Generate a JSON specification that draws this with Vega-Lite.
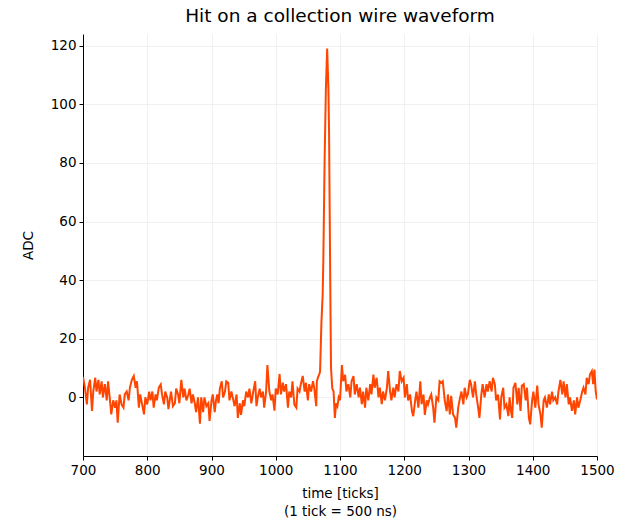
{
  "$schema": "https://vega.github.io/schema/vega-lite/v6.json",
  "width": 514,
  "height": 422,
  "autosize": "none",
  "padding": {"left": 83, "top": 34, "right": 25, "bottom": 69},
  "background": "white",
  "title": {
    "text": "Hit on a collection wire waveform",
    "font": "DejaVu Sans",
    "fontSize": 18.5,
    "fontWeight": "normal",
    "color": "#000000",
    "offset": 9
  },
  "data": {
    "values": [
      {"tick": 700, "adc": 7}, {"tick": 703, "adc": 3.3}, {"tick": 706, "adc": -2.4}, {"tick": 708, "adc": 3.3},
      {"tick": 711, "adc": 6}, {"tick": 714, "adc": -4.6}, {"tick": 716, "adc": 2}, {"tick": 719, "adc": 6.7},
      {"tick": 721, "adc": 2}, {"tick": 724, "adc": 6}, {"tick": 726, "adc": 1}, {"tick": 729, "adc": 5.5},
      {"tick": 731, "adc": 0}, {"tick": 734, "adc": 4.5}, {"tick": 737, "adc": -1}, {"tick": 739, "adc": 5.5},
      {"tick": 742, "adc": -1}, {"tick": 744, "adc": -5.8}, {"tick": 747, "adc": -1}, {"tick": 750, "adc": -3.5},
      {"tick": 752, "adc": -1}, {"tick": 754, "adc": -8.6}, {"tick": 757, "adc": 1}, {"tick": 760, "adc": -2.4},
      {"tick": 763, "adc": -3.5}, {"tick": 765, "adc": 1}, {"tick": 768, "adc": 2}, {"tick": 771, "adc": -1},
      {"tick": 773, "adc": 3.3}, {"tick": 776, "adc": 6}, {"tick": 779, "adc": 7.3}, {"tick": 782, "adc": 3.3},
      {"tick": 784, "adc": 5.5}, {"tick": 787, "adc": -3.5}, {"tick": 789, "adc": 1}, {"tick": 792, "adc": -2.4},
      {"tick": 795, "adc": -5.8}, {"tick": 797, "adc": 0}, {"tick": 800, "adc": -2.4}, {"tick": 803, "adc": 2},
      {"tick": 805, "adc": -1}, {"tick": 808, "adc": 2}, {"tick": 810, "adc": -3.5}, {"tick": 813, "adc": 1},
      {"tick": 815, "adc": -1}, {"tick": 818, "adc": 3.3}, {"tick": 821, "adc": 4.4}, {"tick": 823, "adc": 1},
      {"tick": 826, "adc": -2.4}, {"tick": 828, "adc": 2}, {"tick": 831, "adc": 0}, {"tick": 833, "adc": -4},
      {"tick": 837, "adc": 2}, {"tick": 840, "adc": -3}, {"tick": 843, "adc": -2}, {"tick": 845, "adc": 3},
      {"tick": 848, "adc": 1}, {"tick": 850, "adc": -2}, {"tick": 853, "adc": 6}, {"tick": 856, "adc": 0},
      {"tick": 858, "adc": 3}, {"tick": 861, "adc": -1}, {"tick": 864, "adc": 1}, {"tick": 866, "adc": 3},
      {"tick": 869, "adc": -2}, {"tick": 871, "adc": 1}, {"tick": 874, "adc": -2}, {"tick": 876, "adc": -5},
      {"tick": 879, "adc": 0}, {"tick": 882, "adc": -9}, {"tick": 884, "adc": 0}, {"tick": 887, "adc": -5},
      {"tick": 889, "adc": 0}, {"tick": 892, "adc": -3}, {"tick": 895, "adc": -2}, {"tick": 897, "adc": -8},
      {"tick": 900, "adc": -1}, {"tick": 902, "adc": 1}, {"tick": 905, "adc": -5}, {"tick": 907, "adc": -1},
      {"tick": 909, "adc": 1}, {"tick": 911, "adc": -2}, {"tick": 913, "adc": 3}, {"tick": 916, "adc": 5.5},
      {"tick": 918, "adc": 0}, {"tick": 921, "adc": 2}, {"tick": 923, "adc": 5.5}, {"tick": 926, "adc": 5},
      {"tick": 928, "adc": -1}, {"tick": 931, "adc": 2}, {"tick": 933, "adc": 0}, {"tick": 936, "adc": -3},
      {"tick": 939, "adc": 1}, {"tick": 941, "adc": -7}, {"tick": 944, "adc": -2}, {"tick": 946, "adc": -6},
      {"tick": 949, "adc": -1}, {"tick": 951, "adc": -3}, {"tick": 954, "adc": 2}, {"tick": 957, "adc": 0},
      {"tick": 959, "adc": 3}, {"tick": 962, "adc": -2}, {"tick": 965, "adc": 2}, {"tick": 968, "adc": 5.5},
      {"tick": 970, "adc": -3}, {"tick": 972, "adc": 0}, {"tick": 975, "adc": 3}, {"tick": 977, "adc": 0},
      {"tick": 980, "adc": 2}, {"tick": 982, "adc": -3.5}, {"tick": 985, "adc": 2}, {"tick": 987, "adc": 11},
      {"tick": 990, "adc": 2}, {"tick": 993, "adc": -1}, {"tick": 995, "adc": 1}, {"tick": 998, "adc": -4.5},
      {"tick": 1000, "adc": 3}, {"tick": 1003, "adc": 1}, {"tick": 1006, "adc": 8}, {"tick": 1008, "adc": 1},
      {"tick": 1011, "adc": 5}, {"tick": 1013, "adc": 2}, {"tick": 1016, "adc": 4.5}, {"tick": 1019, "adc": -3.5},
      {"tick": 1021, "adc": 2}, {"tick": 1024, "adc": 0}, {"tick": 1026, "adc": 5.5}, {"tick": 1029, "adc": -2.5},
      {"tick": 1032, "adc": -3.5}, {"tick": 1034, "adc": 3}, {"tick": 1037, "adc": 2}, {"tick": 1039, "adc": 4.5},
      {"tick": 1042, "adc": 7.3}, {"tick": 1045, "adc": 2}, {"tick": 1047, "adc": 5}, {"tick": 1050, "adc": -1},
      {"tick": 1052, "adc": 4.5}, {"tick": 1055, "adc": 2}, {"tick": 1058, "adc": 5.5}, {"tick": 1060, "adc": 3},
      {"tick": 1063, "adc": -3}, {"tick": 1064, "adc": 5.5}, {"tick": 1066, "adc": 7}, {"tick": 1068, "adc": 8},
      {"tick": 1069, "adc": 9}, {"tick": 1071, "adc": 25}, {"tick": 1073, "adc": 35}, {"tick": 1074, "adc": 46},
      {"tick": 1076, "adc": 80}, {"tick": 1078, "adc": 105}, {"tick": 1080, "adc": 119}, {"tick": 1082, "adc": 105},
      {"tick": 1083, "adc": 90}, {"tick": 1084, "adc": 62}, {"tick": 1085, "adc": 35}, {"tick": 1086, "adc": 10},
      {"tick": 1088, "adc": 3}, {"tick": 1090, "adc": 2}, {"tick": 1092, "adc": -7}, {"tick": 1094, "adc": -2},
      {"tick": 1096, "adc": -3}, {"tick": 1098, "adc": 0}, {"tick": 1100, "adc": -1}, {"tick": 1103, "adc": 11},
      {"tick": 1105, "adc": 5.5}, {"tick": 1108, "adc": 7.7}, {"tick": 1110, "adc": 2}, {"tick": 1113, "adc": 4.5},
      {"tick": 1116, "adc": 0}, {"tick": 1118, "adc": 5.5}, {"tick": 1121, "adc": 7.3}, {"tick": 1123, "adc": 1},
      {"tick": 1126, "adc": 4.5}, {"tick": 1129, "adc": 0}, {"tick": 1131, "adc": 3.3}, {"tick": 1134, "adc": -2.3},
      {"tick": 1136, "adc": 2}, {"tick": 1139, "adc": -3.5}, {"tick": 1141, "adc": 3.3}, {"tick": 1144, "adc": -1},
      {"tick": 1147, "adc": 4.5}, {"tick": 1149, "adc": 1}, {"tick": 1152, "adc": 7.8}, {"tick": 1154, "adc": 3.3},
      {"tick": 1157, "adc": 6.7}, {"tick": 1160, "adc": 0}, {"tick": 1162, "adc": 3.3}, {"tick": 1165, "adc": -2.3},
      {"tick": 1167, "adc": 2}, {"tick": 1170, "adc": -1}, {"tick": 1173, "adc": 3.3}, {"tick": 1175, "adc": 9},
      {"tick": 1178, "adc": 2}, {"tick": 1180, "adc": -1}, {"tick": 1183, "adc": 3.3}, {"tick": 1185, "adc": 0},
      {"tick": 1188, "adc": 4.5}, {"tick": 1191, "adc": 2}, {"tick": 1193, "adc": 9}, {"tick": 1196, "adc": 5.5},
      {"tick": 1199, "adc": 6.7}, {"tick": 1201, "adc": 0}, {"tick": 1204, "adc": 4.5}, {"tick": 1206, "adc": -1},
      {"tick": 1209, "adc": 1}, {"tick": 1212, "adc": -4.7}, {"tick": 1214, "adc": -6.4}, {"tick": 1217, "adc": -1},
      {"tick": 1219, "adc": 2}, {"tick": 1222, "adc": -3.5}, {"tick": 1225, "adc": 5.5}, {"tick": 1227, "adc": -2.3},
      {"tick": 1230, "adc": 1}, {"tick": 1232, "adc": -6}, {"tick": 1235, "adc": -1}, {"tick": 1237, "adc": -2.4},
      {"tick": 1240, "adc": 0}, {"tick": 1242, "adc": 1}, {"tick": 1245, "adc": -3.5}, {"tick": 1247, "adc": -8.6},
      {"tick": 1250, "adc": 0}, {"tick": 1253, "adc": -1}, {"tick": 1255, "adc": 5.5}, {"tick": 1258, "adc": 5},
      {"tick": 1260, "adc": 5.5}, {"tick": 1263, "adc": -1}, {"tick": 1266, "adc": -4.7}, {"tick": 1268, "adc": 1},
      {"tick": 1271, "adc": -5.8}, {"tick": 1273, "adc": 0.5}, {"tick": 1276, "adc": -5.8}, {"tick": 1279, "adc": -7},
      {"tick": 1281, "adc": -10.3}, {"tick": 1284, "adc": -3.5}, {"tick": 1286, "adc": -1}, {"tick": 1289, "adc": 2},
      {"tick": 1292, "adc": -2.4}, {"tick": 1294, "adc": 3.3}, {"tick": 1297, "adc": 0}, {"tick": 1299, "adc": 1},
      {"tick": 1302, "adc": 6}, {"tick": 1304, "adc": 4.5}, {"tick": 1307, "adc": 0}, {"tick": 1310, "adc": 5.5},
      {"tick": 1312, "adc": 1}, {"tick": 1315, "adc": -3.5}, {"tick": 1317, "adc": -7}, {"tick": 1320, "adc": 1},
      {"tick": 1322, "adc": 4.5}, {"tick": 1325, "adc": 0}, {"tick": 1328, "adc": 4.5}, {"tick": 1330, "adc": 2},
      {"tick": 1333, "adc": 5.5}, {"tick": 1336, "adc": 2}, {"tick": 1338, "adc": 6.7}, {"tick": 1341, "adc": 4.5},
      {"tick": 1343, "adc": -1}, {"tick": 1346, "adc": 1}, {"tick": 1349, "adc": -7.5}, {"tick": 1351, "adc": 0},
      {"tick": 1354, "adc": 3.3}, {"tick": 1356, "adc": -3.5}, {"tick": 1359, "adc": -2.4}, {"tick": 1362, "adc": -6.4},
      {"tick": 1364, "adc": 0}, {"tick": 1366, "adc": -4.6}, {"tick": 1368, "adc": -7}, {"tick": 1370, "adc": 3.3},
      {"tick": 1373, "adc": 5}, {"tick": 1376, "adc": -2.4}, {"tick": 1378, "adc": 3.3}, {"tick": 1381, "adc": -4.6},
      {"tick": 1383, "adc": 4}, {"tick": 1386, "adc": 4.5}, {"tick": 1389, "adc": -1}, {"tick": 1391, "adc": 3.3},
      {"tick": 1394, "adc": -7}, {"tick": 1396, "adc": -9.2}, {"tick": 1399, "adc": -1}, {"tick": 1401, "adc": 2},
      {"tick": 1404, "adc": -3.5}, {"tick": 1407, "adc": 4}, {"tick": 1409, "adc": -2.4}, {"tick": 1412, "adc": -5.8},
      {"tick": 1414, "adc": -10.3}, {"tick": 1417, "adc": -1}, {"tick": 1419, "adc": 0}, {"tick": 1422, "adc": -3.5},
      {"tick": 1425, "adc": 1}, {"tick": 1427, "adc": -2.4}, {"tick": 1430, "adc": 2}, {"tick": 1432, "adc": -1},
      {"tick": 1435, "adc": 0}, {"tick": 1438, "adc": -2.4}, {"tick": 1440, "adc": 2}, {"tick": 1443, "adc": 6},
      {"tick": 1446, "adc": 1}, {"tick": 1448, "adc": 5.5}, {"tick": 1451, "adc": 0}, {"tick": 1453, "adc": 4.5},
      {"tick": 1456, "adc": -2.4}, {"tick": 1458, "adc": 0}, {"tick": 1461, "adc": -4.6}, {"tick": 1464, "adc": -1},
      {"tick": 1466, "adc": -5.8}, {"tick": 1469, "adc": 0}, {"tick": 1471, "adc": -3.5}, {"tick": 1474, "adc": -1},
      {"tick": 1477, "adc": 2}, {"tick": 1479, "adc": 3.3}, {"tick": 1482, "adc": 1}, {"tick": 1484, "adc": 6.7},
      {"tick": 1487, "adc": 4.5}, {"tick": 1489, "adc": 7.8}, {"tick": 1492, "adc": 9}, {"tick": 1494, "adc": 4.5},
      {"tick": 1496, "adc": 9.5}, {"tick": 1498, "adc": 2}, {"tick": 1500, "adc": -0.7}
    ]
  },
  "mark": {"type": "line", "color": "#ff4500", "strokeWidth": 2, "clip": true},
  "encoding": {
    "x": {
      "field": "tick",
      "type": "quantitative",
      "scale": {"domain": [700, 1500], "nice": false, "zero": false},
      "axis": {
        "values": [700, 800, 900, 1000, 1100, 1200, 1300, 1400, 1500],
        "format": "d",
        "title": ["time [ticks]", "(1 tick = 500 ns)"],
        "titleLineHeight": 18,
        "labelFlush": false,
        "titlePadding": 10
      }
    },
    "y": {
      "field": "adc",
      "type": "quantitative",
      "scale": {"domain": [-20, 124], "nice": false, "zero": false},
      "axis": {
        "values": [0, 20, 40, 60, 80, 100, 120],
        "format": "d",
        "title": "ADC",
        "titlePadding": 15
      }
    }
  },
  "config": {
    "view": {"stroke": null},
    "axis": {
      "labelFont": "DejaVu Sans",
      "labelFontSize": 13.5,
      "labelColor": "#000000",
      "titleFont": "DejaVu Sans",
      "titleFontSize": 13.5,
      "titleFontWeight": "normal",
      "titleColor": "#000000",
      "domainColor": "#000000",
      "domainWidth": 1,
      "tickColor": "#000000",
      "tickSize": 4,
      "labelPadding": 3,
      "grid": true,
      "gridColor": "#eeeeee",
      "gridWidth": 0.8
    }
  }
}
